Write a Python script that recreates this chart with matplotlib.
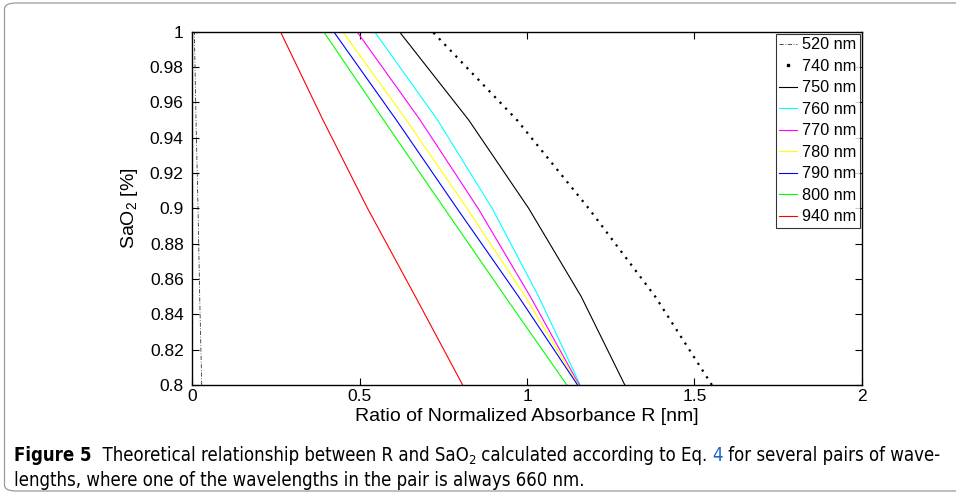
import matplotlib
matplotlib.use("Agg")
import matplotlib.pyplot as plt
from matplotlib.patches import FancyBboxPatch
from matplotlib.lines import Line2D
import numpy as np

plt.rcParams['font.family'] = ['Liberation Sans', 'DejaVu Sans']
plt.rcParams['mathtext.fontset'] = 'custom'
plt.rcParams['mathtext.rm'] = 'Liberation Sans'
plt.rcParams['mathtext.it'] = 'Liberation Sans'

# ---- data ----
sao2 = [0.80, 0.85, 0.90, 0.95, 1.00]
r_520 = [0.029, 0.023, 0.018, 0.012, 0.007]
r_740 = [1.552, 1.383, 1.184, 0.970, 0.718]
r_750 = [1.292, 1.162, 1.005, 0.826, 0.619]
r_760 = [1.159, 1.035, 0.896, 0.733, 0.545]
r_770 = [1.156, 1.010, 0.854, 0.681, 0.4925]
r_780 = [1.153, 0.995, 0.821, 0.640, 0.450]
r_790 = [1.151, 0.975, 0.791, 0.610, 0.423]
r_800 = [1.119, 0.935, 0.753, 0.572, 0.393]
r_940 = [0.808, 0.667, 0.524, 0.391, 0.264]
labels = ['520 nm', '740 nm', '750 nm', '760 nm', '770 nm',
          '780 nm', '790 nm', '800 nm', '940 nm']
x_ticks = [0, 0.5, 1, 1.5, 2]
y_ticks = [0.8, 0.82, 0.84, 0.86, 0.88, 0.9, 0.92, 0.94, 0.96, 0.98, 1.0]

series = [r_520, r_740, r_750, r_760, r_770, r_780, r_790, r_800, r_940]
colors = ['#333333', 'black', 'black', '#00ffff', '#ff00ff', '#ffff00',
          '#0000ff', '#00ff00', '#ff0000']
styles = [(0, (5, 2, 1, 2)), (0, (1, 2.6)), '-', '-', '-', '-', '-', '-', '-']
widths = [0.6, 1.6, 0.8, 0.8, 0.8, 0.8, 0.8, 0.8, 0.8]

W, H = 956, 503
fig = plt.figure(figsize=(W / 100, H / 100), dpi=100)

# frame around figure + caption
frame = FancyBboxPatch((4.5 / W, 12 / H), (W + 20) / W, (H - 15) / H,
                       boxstyle="round,pad=0,rounding_size=0.012",
                       transform=fig.transFigure, fill=False,
                       edgecolor='#9a9a9a', linewidth=0.9)
fig.patches.append(frame)

ax = fig.add_axes([192 / W, 1 - 385 / H, (862 - 192) / W, (385 - 31.7) / H])
handles = []
for r, c, ls, lw, lab in zip(series, colors, styles, widths, labels):
    ln, = ax.plot(r, sao2, color=c, linestyle=ls, linewidth=lw, label=lab)
    if lab == '740 nm':
        handles.append(Line2D([], [], color=c, linestyle='none', marker='s',
                              markersize=1.6, label=lab))
    else:
        handles.append(ln)

ax.set_xlim(0, 2)
ax.set_ylim(0.8, 1.0)
ax.set_xticks(x_ticks)
ax.set_yticks(y_ticks)
ax.set_xticklabels(['%g' % v for v in x_ticks])
ax.set_yticklabels(['%g' % v for v in y_ticks])
ax.tick_params(direction='in', top=True, right=True, length=5, width=0.8,
               labelsize=12.5, colors='black')
ax.tick_params(axis='y', pad=6)
ax.tick_params(axis='x', pad=3)
for s in ax.spines.values():
    s.set_linewidth(1.0)
ax.set_xlabel('Ratio of Normalized Absorbance R [nm]', fontsize=14, labelpad=3)
ax.set_ylabel(r'SaO$_2$ [%]', fontsize=14, labelpad=7)

leg = ax.legend(handles=handles, loc='upper right', fontsize=11.7, frameon=True,
                fancybox=False, edgecolor='black', handlelength=1.1,
                handletextpad=0.3, borderpad=0.22, labelspacing=0.40,
                borderaxespad=0.12)
leg.get_frame().set_linewidth(0.8)

# caption built from segments
cap_family = ['DejaVu Sans']
renderer = fig.canvas.get_renderer()


def draw_segments(x0, y0, segs, fs, stretch):
    x = x0
    for txt, kw in segs:
        kw = dict(kw)
        dy = kw.pop('dy', 0)
        rel = kw.pop('rel', 1.0)
        t = fig.text(x, y0 + dy, txt, transform=None, va='baseline', ha='left',
                     family=cap_family, fontsize=fs * rel, stretch=stretch, **kw)
        bb = t.get_window_extent(renderer=renderer)
        x = bb.x1
    return x

line1 = [
    ('Figure 5', dict(weight='bold')),
    ('  Theoretical relationship between R and SaO', {}),
    ('2', dict(rel=0.7, dy=-3)),
    (' calculated according to Eq. ', {}),
    ('4', dict(color='#1f5fd6')),
    (' for several pairs of wave-', {}),
]
line2 = [('lengths, where one of the wavelengths in the pair is always 660 nm.', {})]

# measure natural width at a trial size, then fit to the reference line width
fs0 = 10.0
xend = draw_segments(14, -100, line1, fs0, 'condensed')
for t in list(fig.texts):
    t.remove()
fs = fs0 * (944 - 14) / (xend - 14)
draw_segments(14, H - 461, line1, fs, 'condensed')
draw_segments(14, H - 486, line2, fs, 'condensed')

fig.savefig('out.png', dpi=100)
